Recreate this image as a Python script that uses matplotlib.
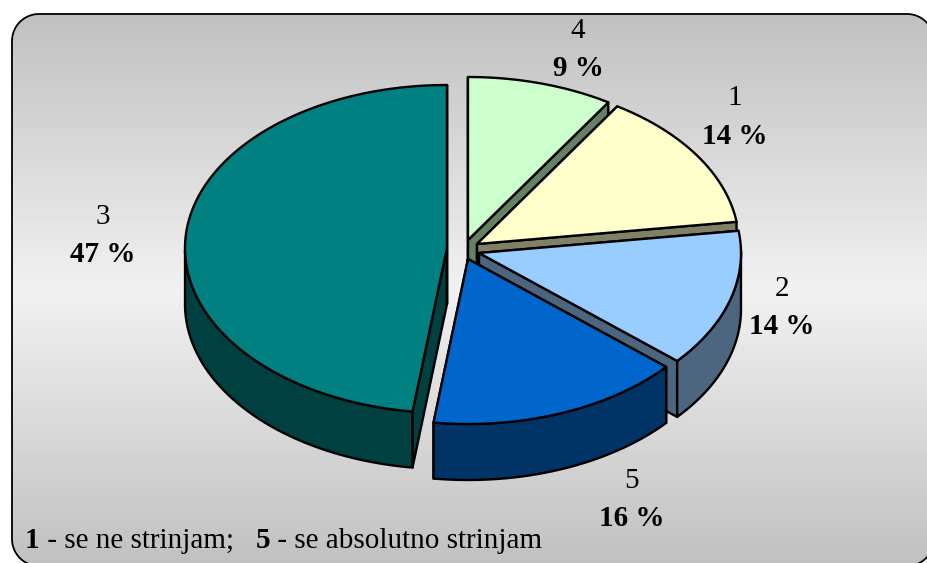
#!/usr/bin/env python3
# -*- coding: utf-8 -*-
"""
Torta 3D con spicchi separati su sfondo grigio sfumato.
"""

import numpy as np
import matplotlib
matplotlib.use('Agg')
import matplotlib.pyplot as plt
from matplotlib.patches import Polygon

# Dati, in senso orario a partire da ore 12
categorie = ['4', '1', '2', '5', '3']
valori = [9, 14, 14, 16, 47]

colori_top = ['#CCFFCC', '#FFFFCC', '#99CCFF', '#0066CC', '#008080']
colori_lato = ['#668066', '#808066', '#4D6680', '#003366', '#004040']

# Vertice di ogni spicchio esploso e posizione delle etichette (pixel)
vertici = [(468, 240), (477, 244), (479, 253), (468, 259), (447, 248)]
pos_etichette = [(578, 31), (735, 98), (782, 289), (632, 481), (103, 217)]

RX, RY = 262, 163
RY_FRONTE = 165
SPESSORE = 56
PROSPETTIVA = 3.3  # gradi di schiacciamento verso il lato frontale
LW = 1.7
FONT = 'Liberation Serif'
CORPO = 21

plt.rcParams['font.family'] = FONT


def punto(t_gradi):
    """Offset sul bordo dell'ellisse per un angolo orario da ore 12."""
    t = np.radians(t_gradi)
    t_vista = t - np.radians(PROSPETTIVA) * ((1 - np.cos(t)) / 2) ** 2
    c = np.cos(t_vista)
    return RX * np.sin(t_vista), -np.where(c < 0, RY_FRONTE, RY) * c


def arco(cx, cy, t0, t1):
    t = np.linspace(t0, t1, 120)
    dx, dy = punto(t)
    return np.column_stack([cx + dx, cy + dy])


def rettangolo_arrotondato(x0, y0, x1, y1, r):
    """Contorno chiuso di un rettangolo con angoli arrotondati."""
    a = np.radians(np.linspace(0, 90, 24))
    s, c = r * np.sin(a), r * np.cos(a)
    return np.vstack([
        np.column_stack([x0 + r - c, y0 + r - s]),
        np.column_stack([x1 - r + s, y0 + r - c]),
        np.column_stack([x1 - r + c, y1 - r + s]),
        np.column_stack([x0 + r - s, y1 - r + c]),
    ])


def disegna_spicchio(ax, cx, cy, t0, t1, col_top, col_lato, z):
    stile_lato = dict(facecolor=col_lato, edgecolor='black', lw=LW,
                      joinstyle='round', zorder=z)
    giu = np.array([0, SPESSORE])
    vertice = np.array([cx, cy])

    # facce radiali
    for t in (t0, t1):
        est = arco(cx, cy, t, t)[0]
        ax.add_patch(Polygon([vertice, est, est + giu, vertice + giu], **stile_lato))

    # parete esterna, solo la parte frontale
    a, b = max(t0, 90), min(t1, 270)
    if a < b:
        bordo = arco(cx, cy, a, b)
        ax.add_patch(Polygon(np.vstack([bordo, (bordo + giu)[::-1]]), **stile_lato))

    # faccia superiore
    ax.add_patch(Polygon(np.vstack([vertice, arco(cx, cy, t0, t1)]),
                         facecolor=col_top, edgecolor='black', lw=LW,
                         joinstyle='round', zorder=z + 0.5))


fig = plt.figure(figsize=(9.27, 5.63), dpi=100)
ax = fig.add_axes([0, 0, 1, 1])

# Sfondo arrotondato con sfumatura verticale
sfondo = Polygon(rettangolo_arrotondato(12, 14, 934, 566, 27), closed=True,
                 facecolor='none', edgecolor='black', lw=1.3, zorder=1)
ax.add_patch(sfondo)
livelli = np.abs(np.linspace(-1, 1, 552))[:, None]
img = ax.imshow(0.753 + (1 - livelli) * 0.19, cmap='gray', vmin=0, vmax=1,
                extent=(12, 934, 566, 14), aspect='auto', zorder=0.5)
img.set_clip_path(sfondo)
ax.set_xlim(0, 927)
ax.set_ylim(563, 0)
ax.set_axis_off()

# Spicchi, dal fondo verso il davanti
angoli = np.concatenate([[0], np.cumsum(valori)]) * 3.6
for i in range(len(valori)):
    cx, cy = vertici[i]
    disegna_spicchio(ax, cx, cy, angoli[i], angoli[i + 1],
                     colori_top[i], colori_lato[i], 2 + i)

# Etichette: categoria e percentuale
for cat, val, (x, y) in zip(categorie, valori, pos_etichette):
    ax.text(x, y, cat, ha='center', va='center', fontsize=CORPO, color='black', zorder=10)
    ax.text(x, y + 38, f'{val} %', ha='center', va='center', fontsize=CORPO,
            fontweight='bold', color='black', zorder=10)

# Nota in basso, con i numeri in grassetto: i pezzi si accodano sulla stessa linea di base
pezzi = [('1', 'bold'), (' - se ne strinjam;   ', 'normal'),
         ('5', 'bold'), (' - se absolutno strinjam', 'normal')]
renderer = fig.canvas.get_renderer()
x_testo = 25
for testo, peso in pezzi:
    t = ax.text(x_testo, 548, testo, fontsize=CORPO, fontweight=peso,
                ha='left', va='baseline', zorder=10)
    x_testo += t.get_window_extent(renderer).width

fig.savefig('out.png', dpi=100)
